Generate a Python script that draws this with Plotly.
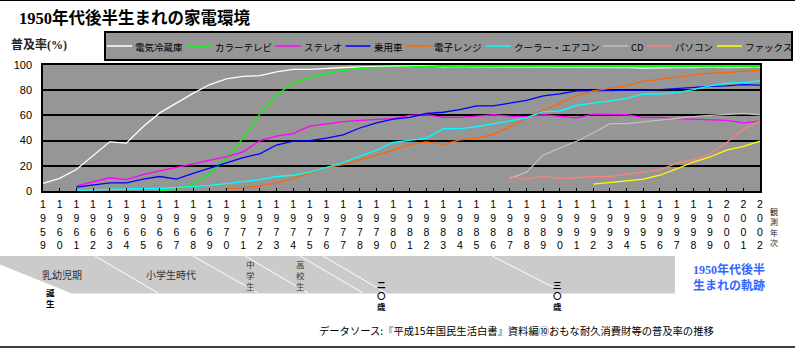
import plotly.graph_objects as go

# ---------------- data ----------------
years = list(range(1959, 2003))

def pad(start_year, vals):
    out = [None] * (start_year - 1959) + list(vals)
    return out + [None] * (len(years) - len(out))

series_names = ["電気冷蔵庫", "カラーテレビ", "ステレオ", "乗用車", "電子レンジ",
                "クーラー・エアコン", "CD", "パソコン", "ファックス"]
series_colors = ["#FFFFFF", "#00FF00", "#FF00FF", "#0000FF", "#FF6600",
                 "#00FFFF", "#C0C0C0", "#FF8080", "#FFFF00"]

fridge = pad(1959, [6, 10, 17, 28, 39, 38, 51, 62, 70, 77.5, 84.5, 89, 91, 91.5, 94.5,
                    96.5, 96.5, 97.5, 98, 98.5, 99, 99, 99, 99.5, 98.5, 99, 98.5, 98.5,
                    98.5, 98.5, 98.5, 98.5, 98.5, 98, 98, 98, 97.5, 98, 98, 98, 98.5, 98,
                    98.5, 98.5])
color_tv = pad(1966, [0.3, 1.6, 5.4, 14, 26, 42, 61, 76, 86, 90, 93.5, 95.5, 97.5, 98,
                      98, 98.5, 99, 99, 98.5, 98.5, 98.5, 98.5, 98.5, 98.5, 99, 99, 98.5,
                      99, 99, 99, 99, 99, 98.5, 98.5, 99, 99, 99])
stereo = pad(1961, [4, 7.5, 10.5, 9, 13, 16, 18.5, 21.5, 24.5, 27, 31, 40, 43.5, 45.5,
                    51.5, 53.5, 55, 56, 56.5, 57.5, 60, 60.5, 58.5, 58.5, 59.5, 60.5, 59.5,
                    59, 60.5, 59, 58, 61, 61, 60.5, 58.5, 58.5, 57.5, 57, 56, 56, 54, 55.5])
car = pad(1961, [3, 4.5, 6.5, 6.5, 9.5, 11.5, 9.5, 14, 18, 22, 26.5, 29.5, 36.5, 39.5,
                 40, 42, 44.5, 50, 54, 57, 58.5, 61.5, 62.5, 64.5, 67.5, 67.5, 70, 72,
                 75.5, 77, 79.5, 79.5, 79.5, 79.5, 80, 80.5, 81.5, 82.5, 83, 83.5, 84.5, 84])
microwave = pad(1970, [2, 2.5, 4, 6.5, 10, 14, 18.5, 21, 24.5, 28.5, 32.5, 37, 39, 37,
                       40.5, 42, 45, 51, 58, 64, 69.5, 75.5, 79.5, 81.5, 83.5, 87, 88.5,
                       90, 92, 93.5, 94, 95, 96])
aircon = pad(1961, [0.5, 1, 1, 1.5, 2, 2, 2.5, 3.5, 4.5, 6, 7.5, 9, 11.5, 12.5, 15,
                    18.5, 22.5, 27.5, 32.5, 38.5, 40.5, 42, 49.5, 49.5, 51, 53.5, 56, 58,
                    63, 63.5, 68, 69.5, 71.5, 73.5, 77, 77, 78, 80.5, 83.5, 85.5, 86, 87.5])
cd = pad(1987, [10, 15, 28.5, 34, 39.5, 46, 53.5, 53.5, 55, 56.5, 57.5, 59, 60, 61,
                61.5, 60.5])
pc = pad(1987, [11.5, 9.5, 11.5, 10, 10.5, 11.5, 11.5, 13.5, 15.5, 17, 22, 25, 29.5,
                38.5, 49, 55.5])
fax = pad(1992, [5.5, 6.5, 8, 9.5, 12.5, 17.5, 23, 27, 32.5, 35.5, 39.5])

series_values = [fridge, color_tv, stereo, car, microwave, aircon, cd, pc, fax]

x_ticktext = ["<br>".join(str(y)) for y in years]
y_ticks = [0, 20, 40, 60, 80, 100]

# ---------------- layout helpers ----------------
W, H = 795, 349
L, R, T, B = 43, 760, 65, 191
PW, PH = R - L, B - T

def px(x):
    return (x - L) / PW

def py(y):
    return (B - y) / PH

JP = "Noto Sans CJK JP"
SERIF = "Liberation Serif, Noto Sans CJK JP"

fig = go.Figure()
for name, color, vals in zip(series_names, series_colors, series_values):
    fig.add_trace(go.Scatter(x=years, y=vals, mode="lines", name=name,
                             line=dict(color=color, width=1.3), connectgaps=False,
                             showlegend=False))

shapes = []
annotations = []

def text(s, x, y, size, color="black", family=JP, xanchor="left", yanchor="middle"):
    annotations.append(dict(text=s, x=px(x), y=py(y), xref="paper", yref="paper",
                            showarrow=False, xanchor=xanchor, yanchor=yanchor,
                            borderpad=0, align="left",
                            font=dict(size=size, color=color, family=family)))

def vtext(s, x, y_mid, size, color="black", bold=False):
    body = "<br>".join(s)
    if bold:
        body = f"<b>{body}</b>"
    text(body, x, y_mid, size, color=color, xanchor="center")

def hline(x0, x1, y, color, width):
    shapes.append(dict(type="line", xref="paper", yref="paper", x0=px(x0), x1=px(x1),
                       y0=py(y), y1=py(y), line=dict(color=color, width=width)))

# frame lines at top and bottom of the image
hline(0, W, 0.5, "black", 1)
hline(0, W, 347, "black", 1.5)

# title and axis titles
text("<b>1950年代後半生まれの家電環境</b>", 18, 17.5, 16.5, family=SERIF)
text("<b>普及率(%)</b>", 10, 45, 12, color="#222", family=SERIF)
vtext("観測年次", 774, 227, 8, color="#222")

# legend box
shapes.append(dict(type="rect", xref="paper", yref="paper", x0=px(105), x1=px(792),
                   y0=py(60), y1=py(32), fillcolor="#969696",
                   line=dict(color="black", width=2)))
cx = 107
for name, color in zip(series_names, series_colors):
    hline(cx, cx + 25, 46, color, 1.5)
    text(name, cx + 27, 46.5, 9.5)
    w = sum(6 if ord(c) < 128 else 9.5 for c in name)
    cx = cx + 27 + w + 5

# life-stage band
shapes.append(dict(type="path", xref="paper", yref="paper",
                   path=("M {} {} L {} {} L {} {} L {} {} L {} {} Z".format(
                       px(0), py(256), px(675), py(256), px(675), py(293.5),
                       px(72), py(293.5), px(0), py(264.5))),
                   fillcolor="#CBCBCB", line=dict(width=0), layer="below"))
for x0, x1, y1 in [(95, 158, 293), (193, 258, 293), (245, 308, 293), (300, 363, 293),
                   (323, 386, 293), (492, 553, 287)]:
    shapes.append(dict(type="line", xref="paper", yref="paper", x0=px(x0), x1=px(x1),
                       y0=py(256), y1=py(y1), line=dict(color="white", width=1)))

text("乳幼児期", 62, 274.5, 10, color="#333", xanchor="center")
text("小学生時代", 171, 274.5, 10, color="#333", xanchor="center")
vtext("中学生", 251, 274.5, 8.5, color="#333")
vtext("高校生", 300, 274.5, 8.5, color="#333")
vtext("誕生", 50, 297.5, 8.5, bold=True)
vtext("二〇歳", 381, 295, 8.5, bold=True)
vtext("三〇歳", 557, 295, 8.5, bold=True)

text("<b>1950年代後半<br>生まれの軌跡</b>", 692, 277.5, 12, color="#3366FF", family=SERIF)

text("データソース:『平成15年国民生活白書』資料編⑩おもな耐久消費財等の普及率の推移",
     318, 330, 10.3)

fig.update_layout(
    width=W, height=H,
    margin=dict(l=L, r=W - R, t=T, b=H - B, pad=0),
    paper_bgcolor="white", plot_bgcolor="#969696",
    shapes=shapes, annotations=annotations, showlegend=False,
    xaxis=dict(range=[1959, 2002], tickmode="array", tickvals=years, ticktext=x_ticktext,
               ticks="inside", ticklen=3, tickcolor="black", tickwidth=1,
               showgrid=False, zeroline=False, showline=True, linecolor="black",
               linewidth=1.5, mirror=True, ticklabelstandoff=3,
               tickfont=dict(family="Liberation Sans", size=10.5, color="black")),
    yaxis=dict(range=[0, 100], tickmode="array", tickvals=y_ticks,
               showgrid=True, gridcolor="black", gridwidth=1.5, zeroline=False,
               showline=True, linecolor="black", linewidth=1.5, mirror=True,
               ticks="", ticklabelstandoff=7,
               tickfont=dict(family="Liberation Sans", size=11, color="black")),
)

fig.write_html("out.html")
